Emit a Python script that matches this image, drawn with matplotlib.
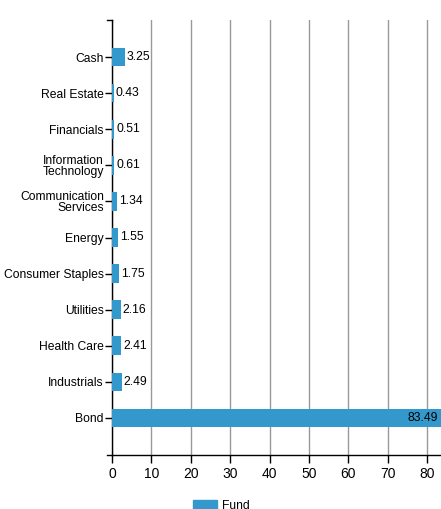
import matplotlib.pyplot as plt
from matplotlib.patches import Rectangle
import numpy as np

plt.rcParams['font.family'] = ['Liberation Sans', 'DejaVu Sans']

categories = ['Cash', 'Real Estate', 'Financials', 'Information\nTechnology',
              'Communication\nServices', 'Energy', 'Consumer Staples', 'Utilities',
              'Health Care', 'Industrials', 'Bond']
values = [3.25, 0.43, 0.51, 0.61, 1.34, 1.55, 1.75, 2.16, 2.41, 2.49, 83.49]
series_name = 'Fund'
xticks = [0, 10, 20, 30, 40, 50, 60, 70, 80]

bar_color = '#3399cc'
W, H = 441, 509

fig = plt.figure(figsize=(W / 100, H / 100), dpi=100)
ax = fig.add_axes([112 / W, (H - 455) / H, (W - 112) / W, 435 / H])

y = np.arange(len(categories))
ax.barh(y, values, height=0.52, color=bar_color, zorder=3)

ax.set_xlim(0, max(values))
ax.set_ylim(len(categories) - 1 + 1.025, -1.025)
ax.set_yticks(y)
ax.set_yticklabels(categories, fontsize=8.7, linespacing=0.95)
for lbl in ax.get_yticklabels():
    lbl.set_multialignment('right')
ax.set_xticks(xticks)
ax.tick_params(axis='x', labelsize=10, length=6, width=1, pad=3)
ax.tick_params(axis='y', length=5, width=1, pad=0.8)

ax.grid(axis='x', color='#999999', linewidth=1, zorder=0)
ax.grid(axis='y', visible=False)
for s in ['top', 'right']:
    ax.spines[s].set_visible(False)
for s in ['left', 'bottom']:
    ax.spines[s].set_color('black')
    ax.spines[s].set_linewidth(1)

xmax = max(values)
for yi, v in zip(y, values):
    if v > 0.9 * xmax:
        ax.annotate(f'{v:.2f}', (v, yi), xytext=(-2, 0), textcoords='offset points',
                    ha='right', va='center', fontsize=8.7, zorder=4)
    else:
        ax.annotate(f'{v:.2f}', (v, yi), xytext=(1.5, 0), textcoords='offset points',
                    ha='left', va='center', fontsize=8.7, zorder=4)

# outer ticks at the ends of the axis lines
ax.plot([-5 / 329, 0], [1, 1], transform=ax.transAxes, color='black', lw=1, clip_on=False)
ax.plot([-5 / 329, 0], [0, 0], transform=ax.transAxes, color='black', lw=1, clip_on=False)

# legend
fig.patches.append(Rectangle((193 / W, 0), 24 / W, 9 / H, transform=fig.transFigure,
                             color=bar_color))
fig.text(222 / W, 9 / H, series_name, fontsize=8.7, va='top', ha='left')

fig.savefig('out.png', dpi=100)
